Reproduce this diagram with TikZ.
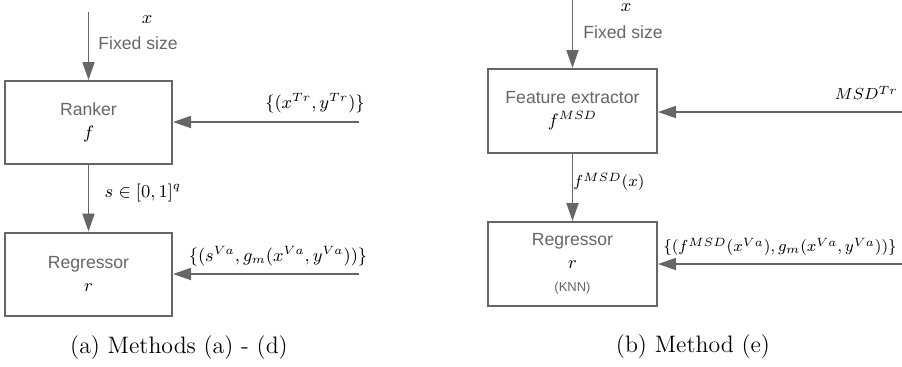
\documentclass[tikz,border=0pt]{standalone}
\usepackage{fontspec}
\setsansfont{Liberation Sans}
\usetikzlibrary{arrows.meta}
\definecolor{lc}{HTML}{666666}
\begin{document}
\begin{tikzpicture}[x=0.5pt,y=-0.5pt,
 box/.style={draw=lc, line width=1pt, minimum width=83.5pt, minimum height=41.5pt, inner sep=0pt, align=center, font=\sffamily\fontsize{8.8}{11.5}\selectfont, text=lc},
 conn/.style={draw=lc, line width=0.9pt, -{Triangle[length=9pt,width=6pt]}},
 lbl/.style={font=\fontsize{9}{11}\selectfont, inner sep=0pt},
 lbls/.style={font=\fontsize{8.2}{10}\selectfont, inner sep=0pt},
 sanslbl/.style={font=\sffamily\fontsize{8.8}{11}\selectfont, text=lc, inner sep=0pt},
 captxt/.style={font=\rmfamily\fontsize{11.9}{14}\selectfont, inner sep=0pt}]
\useasboundingbox (0,0) rectangle (902,366);
% left
\node[box] (rk) at (88.5,122.5) {Ranker\\{\color{black}$f$}};
\node[box] (rg) at (88.5,274) {Regressor\\{\color{black}$r$}};
\node[lbl] (lx) at (147,20) {$x$};
\node[sanslbl] (lfs) at (138,43) {Fixed size};
\node[lbl] (ltr) at (315,103) {$\{(x^{Tr},y^{Tr})\}$};
\node[lbl] (ls) at (143,193) {$s\in[0,1]^q$};
\node[lbl] (lva) at (278,256) {$\{(s^{Va},g_m(x^{Va},y^{Va}))\}$};
\node[captxt] (capa) at (179,348) {(a) Methods (a) - (d)};
\coordinate (ain) at (88.5,12);
\coordinate (atr) at (359,122);
\coordinate (ava) at (359,274);
\draw[conn] (ain) -- (rk);
\draw[conn] (atr) -- (atr -| rk.east);
\draw[conn] (rk) -- (rg);
\draw[conn] (ava) -- (ava -| rg.east);
% right
\node[box, minimum width=84.5pt, minimum height=42pt] (fe) at (572.5,111) {Feature extractor\\{\color{black}$f^{MSD}$}};
\node[box, minimum width=84.5pt, minimum height=42pt] (rg2) at (572.5,264) {Regressor\\{\color{black}$r$}\\{\fontsize{6.5}{10}\selectfont (KNN)}};
\node[lbl] (rx) at (626,8) {$x$};
\node[sanslbl] (rfs) at (623,32) {Fixed size};
\node[lbls, anchor=east] (rtr) at (898,93) {$MSD^{Tr}$};
\node[lbls] (rf) at (609,182) {$f^{MSD}(x)$};
\node[lbls] (rva) at (780,247) {$\{(f^{MSD}(x^{Va}),g_m(x^{Va},y^{Va}))\}$};
\node[captxt] (capb) at (693,347) {(b) Method (e)};
\coordinate (bin) at (572.5,0);
\coordinate (btr) at (902,112);
\coordinate (bva) at (902,264);
\draw[conn] (bin) -- (fe);
\draw[conn] (btr) -- (btr -| fe.east);
\draw[conn] (fe) -- (rg2);
\draw[conn] (bva) -- (bva -| rg2.east);
\end{tikzpicture}
\end{document}
